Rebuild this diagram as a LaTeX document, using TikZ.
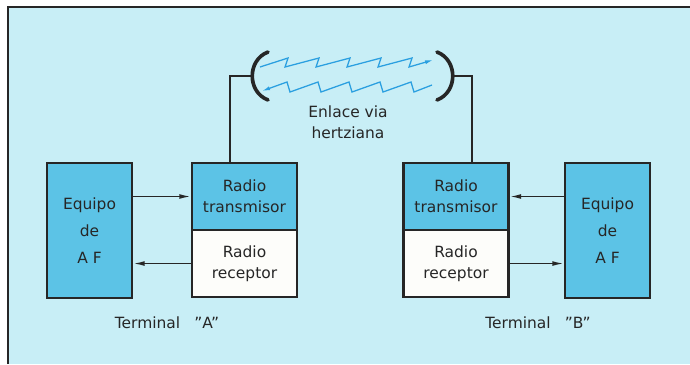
\documentclass[tikz,border=0pt]{standalone}
\usepackage{fontspec}
\setmainfont{DejaVu Sans}
\usetikzlibrary{arrows.meta,positioning,calc}
\definecolor{bgCyan}{HTML}{C8EEF6}
\definecolor{boxBlue}{HTML}{5CC3E6}
\definecolor{waveBlue}{HTML}{2A9FE0}
\definecolor{inkGray}{HTML}{262626}
\definecolor{paperWhite}{HTML}{FDFDFA}

\tikzset{
  unit/.style={draw=inkGray, line width=1.9pt, fill=boxBlue, text=inkGray,
               align=center, inner sep=0pt, font=\fontsize{11}{15}\selectfont},
  afbox/.style={unit, minimum width=2.125cm, minimum height=3.375cm,
                font=\fontsize{11}{19}\selectfont},
  txbox/.style={unit, minimum width=2.625cm, minimum height=1.675cm},
  rxbox/.style={txbox, fill=paperWhite},
  feed/.style={draw=inkGray, line width=1pt},
  sig/.style={feed, -{Latex[length=2.8mm,width=1.2mm]}},
  wave/.style={draw=waveBlue, line width=0.9pt, -{Latex[length=2mm,width=1mm]}},
  dish/.style={draw=inkGray, line width=2.6pt, line cap=round},
  tag/.style={text=inkGray, align=center, font=\fontsize{11}{15}\selectfont}
}

\begin{document}
\begin{tikzpicture}[x=0.025cm, y=-0.025cm]
    % Sheet and frame
    \useasboundingbox (0,0) rectangle (690,364);
    \fill[bgCyan] (8,7) rectangle (690,364);
    \draw[inkGray, line width=1.6pt] (8,364) -- (8,7) -- (690,7);

    % Terminal A
    \node[afbox] (afA) at (89.5,230.5) {Equipo\\de\\A F};
    \node[txbox] (txA) at (244.5,196.5) {Radio\\transmisor};
    \node[rxbox, below=-1.9pt of txA] (rxA) {Radio\\receptor};
    \node[tag] (termA) at (167,323) {Terminal\hspace{0.6em} \symbol{34}A\symbol{34}};

    % Terminal B
    \node[afbox] (afB) at (607.5,230.5) {Equipo\\de\\A F};
    \node[txbox] (txB) at (456,196.5) {Radio\\transmisor};
    \node[rxbox, below=-1.9pt of txB] (rxB) {Radio\\receptor};
    \node[tag] (termB) at (538,323) {Terminal\hspace{0.6em} \symbol{34}B\symbol{34}};

    % Signal paths
    \draw[sig] (afA.east |- txA.west) -- (txA.west);
    \draw[sig] (rxA.west) -- (rxA.west -| afA.east);
    \draw[sig] (afB.west |- txB.east) -- (txB.east);
    \draw[sig] (rxB.east) -- (rxB.east -| afB.west);

    % Antennas
    \coordinate (antA) at (252,76);
    \coordinate (antB) at (452,76);
    \draw[dish] (268,52) .. controls (247,60) and (247,92) .. (268,100);
    \draw[dish] (437,52) .. controls (458,60) and (458,92) .. (437,100);
    \draw[feed] (antA) -| ($(txA.north)+(-14.5,0)$);
    \draw[feed] (antB) -| ($(txB.north)+(16,0)$);

    % Radio link
    \draw[wave] (260,67) -- (288,58) -- (285,67) -- (319,58) -- (316,67)
        -- (350,58) -- (347,67) -- (381,58) -- (378,67) -- (412,58)
        -- (409,67) -- (433,60);
    \draw[wave] (432,85) -- (414,92) -- (411,82) -- (383,92) -- (380,82)
        -- (352,92) -- (349,82) -- (321,92) -- (318,82) -- (290,92)
        -- (287,82) -- (262,91);
    \node[tag] (hop) at (348,122) {Enlace via\\hertziana};
\end{tikzpicture}
\end{document}
